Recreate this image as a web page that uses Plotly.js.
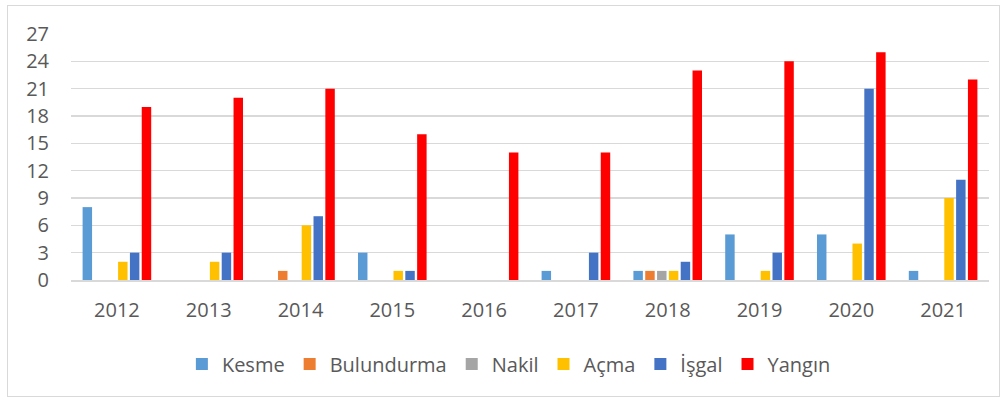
<!DOCTYPE html>
<html><head><meta charset="utf-8">
<script src="https://cdn.plot.ly/plotly-3.0.1.min.js"></script>
<style>html,body{margin:0;padding:0;background:#fff;}#chart{width:1003px;height:401px;position:relative;}
#frame{position:absolute;left:7px;top:5px;width:991px;height:390px;border:1px solid #d9d9d9;pointer-events:none;}</style>
</head><body>
<div id="chart"></div>
<div id="frame"></div>
<script>
var years = ['2012','2013','2014','2015','2016','2017','2018','2019','2020','2021'];
var kesme      = [8,0,0,3,0,1,1,5,5,1];
var bulundurma = [0,0,1,0,0,0,1,0,0,0];
var nakil      = [0,0,0,0,0,0,1,0,0,0];
var acma       = [2,2,6,1,0,0,1,1,4,9];
var isgal      = [3,3,7,1,0,3,2,3,21,11];
var yangin     = [19,20,21,16,14,14,23,24,25,22];
var yTicks = [0,3,6,9,12,15,18,21,24,27];

var names = ['Kesme','Bulundurma','Nakil','Açma','İşgal','Yangın'];
var colors = ['#5b9bd5','#ed7d31','#a5a5a5','#ffc000','#4472c4','#ff0000'];
var series = [kesme,bulundurma,nakil,acma,isgal,yangin];
var data = series.map(function(s,i){
  return {type:'bar', x:years, y:s, name:names[i], marker:{color:colors[i]}, hoverinfo:'x+y+name'};
});
var fam = '"Open Sans", Lato, sans-serif';
var font = {family:fam, size:20, color:'#595959'};
var layout = {
  width:1003, height:401,
  margin:{l:71, r:14, t:34, b:121},
  paper_bgcolor:'rgba(0,0,0,0)', plot_bgcolor:'#fff',
  barmode:'group', bargap:0.227, bargroupgap:0.2,
  font:font,
  xaxis:{type:'category', tickfont:font, showgrid:false, showline:true, linecolor:'#d9d9d9', linewidth:1.5, ticks:'', ticklen:0, ticklabelstandoff:11},
  yaxis:{range:[0,27], tickvals:yTicks, ticktext:yTicks.map(String), tickfont:font, showgrid:true, gridcolor:'#d9d9d9', gridwidth:1.5, zeroline:false, showline:false, ticks:'', ticklabelstandoff:21},
  legend:{orientation:'h', x:0.477, xanchor:'center', y:-0.341, yanchor:'middle', font:{family:fam, size:20, color:'#595959'}, itemwidth:30, traceorder:'normal'},
  showlegend:true
};
Plotly.newPlot('chart', data, layout, {displayModeBar:false, staticPlot:true});
</script>
</body></html>
